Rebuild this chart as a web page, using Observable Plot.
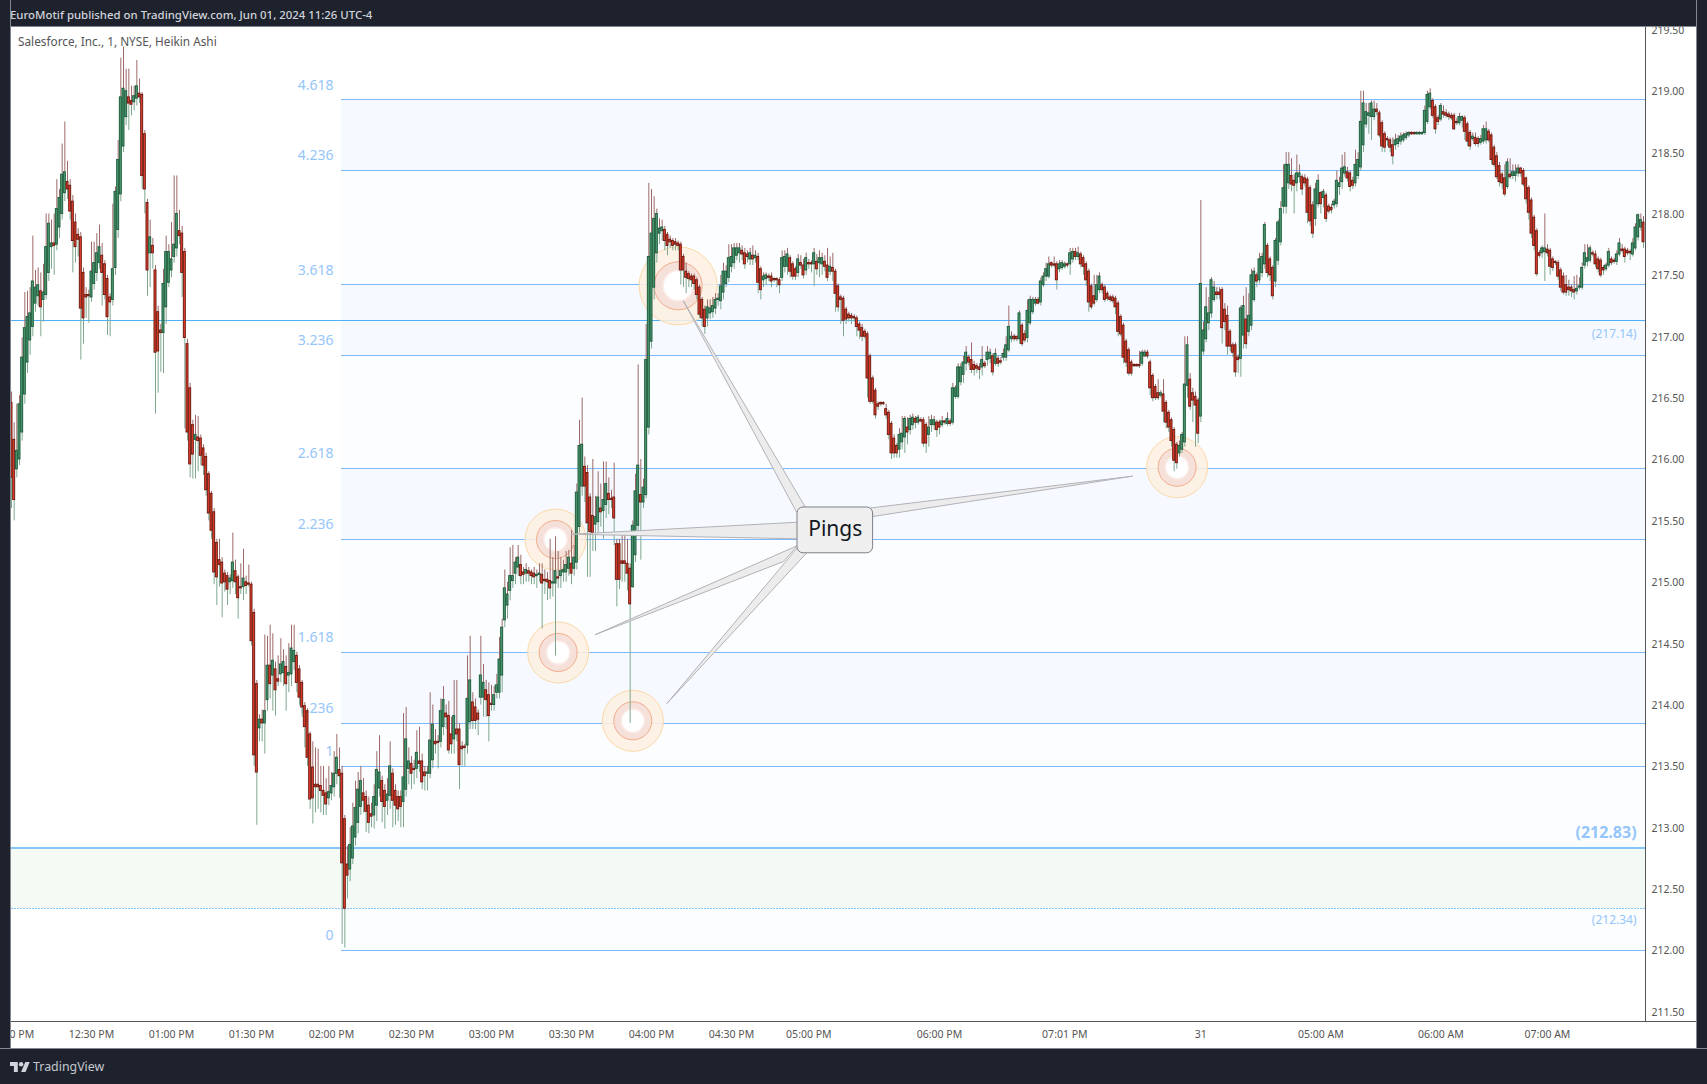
<!DOCTYPE html>
<html><head><meta charset="utf-8">
<script src="https://cdn.jsdelivr.net/npm/d3@7"></script>
<script src="https://cdn.jsdelivr.net/npm/@observablehq/plot@0.6"></script>
<style>
html,body{margin:0;padding:0;background:#1e222d;width:1707px;height:1084px;overflow:hidden}
#chart{position:absolute;left:0;top:0}
.f{position:absolute;background:#1e222d;z-index:5}
.t{position:absolute;z-index:6;font-family:"Noto Sans",sans-serif;white-space:nowrap}
</style></head><body>
<div id="chart"></div>
<div class="f" style="left:0;top:0;width:1707px;height:26px;border-bottom:1px solid #85878f"></div>
<div class="f" style="left:0;top:0;width:10px;height:1084px;border-right:1px solid #85878f"></div>
<div class="f" style="left:1696px;top:0;width:11px;height:1084px;border-left:1px solid #85878f"></div>
<div class="f" style="left:0;top:1048px;width:1707px;height:36px;border-top:1px solid #85878f"></div>
<div class="t" style="left:10px;top:7px;font-size:11.4px;font-weight:500;color:#d1d4dc">EuroMotif published on TradingView.com, Jun 01, 2024 11:26 UTC-4</div>
<div class="t" style="left:18px;top:33px;font-size:11.8px;color:#555">Salesforce, Inc., 1, NYSE, Heikin Ashi</div>
<svg class="t" style="left:10px;top:1061px" width="20" height="12" viewBox="0 4 36 18"><path fill="#d1d4dc" d="M14 22H7V11H0V4h14v18zM28 22h-8l7.5-18h8L28 22z"/><circle fill="#d1d4dc" cx="20" cy="8" r="4"/></svg>
<div class="t" style="left:33px;top:1058px;font-size:12.4px;color:#c4c7cf">TradingView</div>
<script>
// Prices are cents above this base. Rows: [open, close, high, low]
const priceBase = 212;
const noonBars = [
[446,385,455,360],[416,367,430,350],[392,407,445,385],[400,445,452,395],[422,483,499,415],[453,507,536,445],[479,516,537,470],[497,519,540,485],[508,545,582,500],[527,540,554,520],
[533,542,556,525],[537,524,552,500],[530,536,559,512],[534,573,600,530],[552,592,600,545],[573,576,595,555],[576,574,600,550],[575,604,628,570],[589,613,620,580],[600,632,657,595],
[617,634,675,610],[626,620,643,612],[623,602,628,595],[610,578,615,552],[593,573,600,560],[583,579,588,565],[581,523,585,481],[552,515,556,494],[534,532,540,515],[534,533,538,511],
[532,553,577,528],[543,560,577,538],[552,568,584,545],[560,573,591,555],[566,552,576,525],[559,534,562,530],[547,516,550,501],[532,528,535,500],[530,555,608,525],[556,618,622,550],
[587,644,660,580],[616,695,727,610],[655,702,736,650],[679,700,718,672],[695,690,718,668],[692,689,704,680],[691,696,704,684],[694,704,725,688],[698,695,710,690],[697,631,699,620],
[665,620,668,600],[609,554,612,533],[568,581,595,540],[574,568,580,555],[554,487,558,437],[520,488,525,454],[505,503,510,471],[503,543,555,470],[524,569,582,510],[544,569,575,540],
[554,563,593,548],[565,575,631,560],[572,600,631,565],[586,582,603,575],[584,552,590,532],[569,499,572,425],[494,422,498,415],[458,396,462,385],[428,404,432,384],[416,420,436,384],
[418,415,435,390],[417,403,420,395],[409,395,412,387],[402,375,405,370],[388,356,390,350],[372,342,374,335],[357,308,360,298],[332,304,335,281],[318,314,335,296],[316,299,320,271],
[307,300,310,292],[305,294,308,281],[300,303,306,290],[301,316,340,295],[309,300,318,290],[304,287,306,270],[296,295,315,290],[296,303,327,285],[300,297,305,290],[299,298,314,296],
[298,252,300,248],[275,159,278,150],[217,145,220,102],[181,188,192,170],[188,185,196,170],[185,195,257,160],[204,232,256,195],[232,217,265,205],[224,236,258,195],[229,212,235,191],
[221,219,240,215],[225,233,254,218],[226,235,245,215],[231,217,240,195],[224,226,250,210],[225,246,265,215],[235,244,265,228],[240,218,243,210],[229,206,232,200],[218,198,220,190],
[199,182,202,165],[195,157,197,150],[176,123,178,115],[149,124,170,103],[135,133,165,112],[135,133,164,115],[134,130,150,112],[130,126,150,110],[128,119,140,110],[124,129,150,118]];
const afternoonBars = [
[128,134,145,122],[133,144,162,125],[144,157,176,135],[147,142,165,124],[144,71,150,5],[107,34,110,2],[70,61,85,42],[66,86,100,56],[75,101,120,70],[92,116,138,85],
[104,131,145,95],[117,138,150,110],[128,122,140,112],[125,113,130,96],[118,104,125,95],[111,109,120,100],[110,125,135,99],[118,147,162,105],[132,145,175,125],[138,121,142,104],
[130,117,135,99],[122,127,140,110],[126,150,170,115],[144,122,148,100],[130,118,135,102],[125,115,130,105],[125,117,130,100],[121,141,193,100],[131,172,198,125],[148,154,165,135],
[152,144,158,131],[148,147,155,135],[148,161,179,140],[154,152,182,145],[154,137,160,131],[145,142,150,130],[144,145,150,130],[144,171,210,140],[155,184,200,148],[170,168,180,160],
[170,169,175,148],[170,195,205,165],[182,204,215,175],[193,190,200,180],[191,163,203,160],[176,168,190,160],[172,191,220,160],[180,176,220,170],[180,151,185,131],[166,164,170,150],
[166,165,168,150],[167,205,240,160],[186,220,256,180],[202,187,210,180],[198,187,205,180],[193,188,196,175],[206,224,256,200],[206,218,233,190],[212,204,220,190],[208,191,218,170],
[201,200,216,195],[200,208,215,195],[210,216,225,205],[210,237,255,205],[224,263,270,210],[269,295,310,263],[281,290,300,270],[293,305,328,285],[301,305,330,295],[307,316,320,298],
[312,320,330,305],[314,305,322,298],[308,306,312,298],[307,310,315,300],[309,307,312,300],[308,305,310,298],[307,304,312,298],[305,306,310,295],[306,307,315,300],[306,299,315,262],
[302,301,310,290],[302,300,308,285],[301,295,335,286],[299,300,320,288],[299,309,337,240],[304,303,325,295],[305,309,320,295],[308,310,318,300],[308,314,325,300],[311,320,326,305],
[315,307,342,298],[311,320,330,305],[316,373,380,310],[345,411,432,340],[378,412,450,370],[394,378,402,365],[389,348,395,304],[369,341,372,304],[354,340,400,325],[347,353,370,325],
[349,369,390,340],[360,357,380,345],[358,367,398,335],[363,380,398,352],[372,367,385,355],[368,367,375,360],[369,352,397,330],[331,302,335,280],[331,302,335,294],[317,315,340,300],
[317,315,340,300],[315,307,335,293],[311,282,315,185],[296,346,350,295],[322,374,388,316],[346,395,477,340],[371,365,400,318],[365,377,384,360],[371,481,510,368],[426,565,625,420]];
const eveningBars = [
[496,584,620,490],[540,596,614,530],[568,600,604,560],[584,588,596,575],[586,589,595,578],[587,578,590,570],[583,574,585,566],[579,577,582,572],[578,574,580,570],[577,575,580,570],
[576,574,578,570],[575,554,577,542],[565,554,567,540],[553,548,560,535],[551,547,553,540],[549,546,551,540],[549,543,551,538],[546,534,548,530],[540,518,542,515],[530,515,532,508],
[522,508,525,502],[515,524,530,508],[519,523,530,514],[520,525,532,515],[523,530,535,518],[530,531,535,525],[529,541,550,522],[536,553,560,530],[543,553,558,540],[548,564,575,544],
[557,565,575,552],[560,572,576,555],[566,572,576,562],[568,572,576,560],[570,567,574,562],[568,559,572,555],[567,565,570,560],[563,568,572,558],[566,563,574,558],[564,566,570,560],
[565,544,568,535],[555,538,557,530],[546,549,552,540],[547,550,552,542],[549,548,551,545],[549,545,552,540],[547,546,548,544],[547,546,548,540],[546,542,548,535],[548,564,570,545],
[557,565,570,552],[557,567,572,550],[564,553,566,548],[559,549,561,546],[555,549,557,546],[552,563,567,548],[560,558,566,555],[558,550,563,547],[554,564,568,550],[560,559,563,555],
[560,559,562,552],[559,568,572,541],[561,555,567,550],[560,564,570,548],[559,564,568,550],[561,557,566,553],[558,548,572,545],[553,557,565,550],[556,553,568,545],[553,535,555,520],
[541,524,543,520],[532,530,534,510],[531,513,533,500],[522,514,524,510],[518,515,520,512],[517,515,519,510],[516,515,518,512],[515,508,517,500],[510,505,512,498],[507,500,510,496],
[504,500,506,498],[502,466,504,450],[484,447,486,445],[466,447,468,445],[456,436,458,433],[445,443,447,440],[446,445,447,443],[446,445,447,444],[441,436,445,433],[438,420,440,416],
[429,405,431,400],[417,405,420,401],[411,405,413,401],[408,420,425,401],[414,421,435,408],[418,433,435,405],[426,422,434,412],[424,433,436,420],[428,434,437,424],[433,430,435,425],
[430,434,436,428],[432,431,434,430],[432,413,434,410],[428,413,430,405],[420,426,435,410],[428,432,436,422],[428,432,435,424],[430,424,432,418],[430,426,432,420],[428,431,435,426],
[431,430,432,428],[429,433,438,427],[431,429,433,427],[430,458,462,428],[451,458,460,449],[451,475,478,449],[463,475,478,460],[469,479,484,462],[478,487,492,472],[483,479,485,476],
[481,473,495,470],[477,473,480,468],[476,474,478,470],[475,473,478,465],[475,481,492,468],[478,476,480,474],[481,487,492,476],[482,487,490,478],[484,471,486,468],[478,486,490,476],
[482,478,484,475],[480,479,483,477],[483,486,490,480],[483,493,500,480],[489,508,525,487],[498,500,504,495],[500,498,502,496],[500,498,500,496],[498,519,521,494],[509,494,511,492],
[502,497,505,495],[499,521,530,495],[511,530,533,509],[520,530,532,518],[527,530,532,525],[530,527,532,526],[528,545,548,525],[542,549,552,540],[549,555,560,545],[549,559,565,547],
[560,558,561,556],[559,558,565,556],[559,546,561,538],[555,559,562,552],[556,560,562,554],[557,559,561,555],[559,558,560,556],[559,568,572,550],[563,569,572,560],[569,565,572,562],
[565,568,573,562],[567,559,569,556],[564,557,566,550],[559,546,561,541],[553,528,555,520],[541,524,543,522],[533,527,550,525],[530,542,550,528],[538,549,552,535],[542,538,544,535],
[540,530,542,528],[535,531,537,529],[532,530,534,528],[532,529,534,527],[531,524,533,518],[527,504,529,500],[516,502,518,500],[509,483,511,478],[496,479,498,475],[489,470,491,468],
[479,470,481,468],[477,476,478,475],[477,476,478,475],[477,476,488,474],[478,487,489,476],[484,487,489,483],[487,484,489,482],[479,458,481,452],[468,450,470,447],[459,450,461,448],
[454,450,465,448],[452,454,456,450],[453,439,465,430],[446,430,448,425],[438,426,440,422],[432,415,434,410],[424,399,426,390],[412,397,414,392],[405,411,415,402],[408,420,422,405]];
const overnightBars = [
[414,461,500,410],[460,493,500,450],[465,443,470,440],[454,448,458,430],[451,444,455,410],[448,421,450,413],[435,543,611,430],[488,505,512,485],[498,524,540,495],[511,519,532,505],
[519,546,548,515],[530,540,545,528],[536,534,540,530],[536,534,540,530],[538,507,540,494],[522,512,527,505],[517,492,525,485],[504,492,506,488],[493,487,495,483],[493,471,495,467],
[483,481,485,470],[482,523,525,467],[501,525,533,490],[514,494,540,490],[504,517,535,500],[509,550,555,505],[530,553,556,528],[550,545,552,540],[546,563,568,543],[552,565,568,548],
[559,591,593,555],[574,552,576,548],[563,550,565,545],[556,533,558,530],[545,578,580,540],[562,593,595,558],[577,604,610,574],[606,621,640,600],[606,640,650,600],[625,640,650,620],
[631,624,645,618],[627,623,632,600],[625,633,648,618],[630,633,640,625],[630,620,632,615],[629,625,632,622],[628,601,630,592],[621,594,623,590],[607,584,610,580],[596,620,625,590],
[608,627,632,605],[617,608,618,600],[613,618,620,605],[615,596,617,593],[606,602,608,600],[605,603,608,600],[607,610,612,604],[608,627,635,605],[622,625,630,615],[626,637,648,620],
[633,638,650,630],[634,629,638,626],[633,622,635,618],[627,623,630,620],[625,640,652,622],[631,644,650,628],[638,675,700,635],[656,690,700,650],[673,683,690,670],[680,682,690,665]];
const morningBars = [
[679,690,692,660],[679,685,692,676],[685,683,690,680],[682,664,684,662],[674,655,676,650],[665,654,667,650],[661,660,663,655],[660,654,662,650],[656,647,662,640],[656,660,665,652],
[657,661,664,654],[659,663,666,656],[660,664,666,658],[662,665,667,660],[664,666,667,662],[666,665,667,664],[666,665,667,664],[665,666,667,664],[665,666,667,664],[665,666,667,664],
[666,684,688,664],[675,697,700,673],[687,698,702,685],[692,680,694,678],[687,669,689,665],[678,675,680,672],[677,688,690,675],[683,681,688,678],[682,680,685,678],[681,679,683,676],
[680,678,682,676],[680,669,682,668],[675,674,678,672],[674,679,682,672],[676,679,680,670],[678,667,680,660],[673,659,675,655],[666,655,668,652],[661,663,666,659],[662,657,666,655],
[661,657,663,654],[658,661,664,656],[659,669,672,657],[660,669,675,657],[667,660,669,658],[664,644,666,640],[654,640,656,638],[647,630,650,628],[639,626,642,622],[632,625,634,620],
[629,616,640,614],[622,642,645,620],[632,630,645,628],[631,634,640,628],[631,634,640,626],[633,637,640,630],[637,633,638,630],[635,624,637,622],[629,612,630,608],[621,601,623,595],
[611,584,613,580],[597,574,599,570],[586,551,588,549],[568,566,570,564],[568,572,574,564],[569,572,600,545],[571,568,575,565],[570,557,572,550],[563,556,565,553],[561,560,562,558],
[560,549,562,546],[554,540,556,537],[549,536,552,534],[542,536,550,533],[540,538,546,533],[540,537,542,532],[538,536,549,530],[537,539,550,534],[540,541,548,538],[540,556,560,538],
[558,568,575,555],[561,564,575,557],[562,572,574,560],[568,567,570,565],[567,559,570,556],[563,555,565,552],[562,550,564,548],[556,554,558,550],[555,558,560,553],[558,569,572,556],
[563,560,565,558],[562,561,564,559],[561,567,570,558],[567,576,580,565],[571,570,575,568],[571,565,573,560],[570,568,572,566],[569,568,571,562],[567,576,580,565],[572,589,592,570],
[581,599,600,578],[589,595,600,586],[593,577,598,572]];

const priceTicks = [211.5,212,212.5,213,213.5,214,214.5,215,215.5,216,216.5,217,217.5,218,218.5,219,219.5];
const timeTicks = [0,30,60,90,120,150,180,210,240,270,299,348,395,446,491,536,576];
const timeLabels = ["12:00 PM","12:30 PM","01:00 PM","01:30 PM","02:00 PM","02:30 PM","03:00 PM","03:30 PM","04:00 PM","04:30 PM","05:00 PM","06:00 PM","07:01 PM","31","05:00 AM","06:00 AM","07:00 AM"];
const fibRatios = ["4.618","4.236","3.618","3.236","2.618","2.236","1.618","1.236","1","0"];
const fibPrices = [218.93,218.355,217.425,216.85,215.93,215.35,214.43,213.85,213.50,212.00];
const levelPrices = [217.13,212.835,212.34];
const levelLabels = ["(217.14)","(212.83)","(212.34)"];
const fibStart = 123.75, barEnd = 612.75;
const pingX = [204,205,233,437.1];
const pingY = [215.348,214.428,213.871,215.937];
const bigPingX = [250];
const bigPingY = [217.415];
const calloutWedges = [
 [[210,215.391],[294.75,215.489],[294.75,215.354]],
 [[219,214.574],[294.75,215.299],[289.5,215.169]],
 [[245.9,214.015],[294.75,215.283],[298.1,215.237]],
 [[252,217.29],[294.4,215.571],[297.75,215.609]],
 [[420.3,215.864],[322.1,215.605],[323.1,215.536]]];
const calloutBox = {x1:294.75,x2:323.1,y1:215.236,y2:215.609};

const bars = [...noonBars,...afternoonBars,...eveningBars,...overnightBars,...morningBars].map((b,i)=>{
  const [o,c,h,l] = b.map(v=>priceBase+v/100);
  return {i,o,c,h,l,top:Math.max(o,c),bot:Math.min(o,c),up:c>=o};
});
const wedgePts = calloutWedges.flatMap((w,k)=>[...w,w[0]].map(p=>({k,x:p[0],y:p[1]})));
const pings = pingX.map((x,k)=>({x,y:pingY[k]}));
const bigPings = bigPingX.map((x,k)=>({x,y:bigPingY[k]}));
const fibs = fibPrices.map((p,k)=>({p,r:fibRatios[k]}));
const strong = [[0,1],[2,3],[4,5],[6,7]].map(([a,b])=>({y1:fibPrices[a],y2:fibPrices[b]}));
const blue="#7db9ff", lab="#94c5fb";
const body = bars.map(d=>({...d,x1:d.i-0.37,x2:d.i+0.37}));
const rings = (data,r1,r2,r3)=>[
  Plot.dot(data,{x:"x",y:"y",r:r1,fill:"#fdf0e0",fillOpacity:0.85,stroke:"#fcd9a8",strokeWidth:1}),
  Plot.dot(data,{x:"x",y:"y",r:r2,fill:"#f6e0da",stroke:"#f3ab8c",strokeWidth:1}),
  Plot.dot(data,{x:"x",y:"y",r:r3,fill:"#fff",stroke:"#fbeeea",strokeWidth:1.5})
];

const plot = Plot.plot({
  width:1707,height:1084,marginLeft:11,marginRight:62,marginTop:27,marginBottom:63,
  style:{background:"#fff",fontFamily:"'Noto Sans',sans-serif"},
  x:{domain:[0,barEnd],axis:null},
  y:{domain:[priceBase-71/122.75,priceBase+923/122.75],axis:null},
  marks:[
    Plot.rect([{y1:212,y2:fibPrices[0]}],{x1:fibStart,x2:barEnd,y1:"y1",y2:"y2",fill:"#fcfdff"}),
    Plot.rect(strong,{x1:fibStart,x2:barEnd,y1:"y1",y2:"y2",fill:"#f6f9ff"}),
    Plot.rect([{y1:levelPrices[2],y2:levelPrices[1]}],{x1:0,x2:barEnd,y1:"y1",y2:"y2",fill:"#e8f4e8",fillOpacity:0.45}),
    Plot.ruleY(fibs,{y:"p",x1:fibStart,x2:barEnd,stroke:blue,strokeWidth:1,shapeRendering:"crispEdges"}),
    Plot.ruleY([levelPrices[0]],{x1:0,x2:barEnd,stroke:"#4fb0fa",strokeWidth:1,shapeRendering:"crispEdges"}),
    Plot.ruleY([levelPrices[1]],{x1:0,x2:barEnd,stroke:"#84c6fb",strokeWidth:2,shapeRendering:"crispEdges"}),
    Plot.ruleY([levelPrices[2]],{x1:0,x2:barEnd,stroke:"#7fc4f7",strokeWidth:1,strokeDasharray:"2 1",shapeRendering:"crispEdges"}),
    Plot.text(fibs,{x:120.75,y:"p",text:"r",textAnchor:"end",dy:-14.5,fill:lab,fontSize:14}),
    Plot.text([levelLabels[0]],{x:609.4,y:levelPrices[0],text:d=>d,textAnchor:"end",dy:13,fill:lab,fontSize:12}),
    Plot.text([levelLabels[1]],{x:609.4,y:levelPrices[1],text:d=>d,textAnchor:"end",dy:-15,fill:lab,fontSize:16,fontWeight:"bold"}),
    Plot.text([levelLabels[2]],{x:609.4,y:levelPrices[2],text:d=>d,textAnchor:"end",dy:11,fill:lab,fontSize:12}),
    ...rings(pings,30.5,19,11.5),
    ...rings(bigPings,39,24,15),
    Plot.ruleX(bars,{x:"i",y1:"top",y2:"h",stroke:"#9c6b68",strokeWidth:1}),
    Plot.ruleX(bars,{x:"i",y1:"bot",y2:"l",stroke:"#7fa88f",strokeWidth:1}),
    Plot.rect(body,{x1:"x1",x2:"x2",y1:"o",y2:"c",fill:d=>d.up?"#4f9e72":"#e8432c",stroke:d=>d.up?"#1f5c3e":"#6e1a12",strokeWidth:1}),
    Plot.line(wedgePts,{x:"x",y:"y",z:"k",fill:"#ececec",stroke:"#b2b2b6",strokeWidth:1}),
    Plot.rect([calloutBox],{x1:"x1",x2:"x2",y1:"y1",y2:"y2",fill:"#efefef",stroke:"#7f8188",strokeWidth:1,rx:6}),
    Plot.text(["Pings"],{x:308.9,y:215.43,text:d=>d,fontSize:21,fill:"#131722"}),
    Plot.ruleX([barEnd],{y1:priceBase-71/122.75,y2:priceBase+923/122.75,stroke:"#555",strokeWidth:1}),
    Plot.ruleY([priceBase-71/122.75],{x1:0,x2:barEnd+20,stroke:"#555",strokeWidth:1}),
    Plot.axisY({anchor:"right",ticks:priceTicks,tickFormat:d3.format(".2f"),tickSize:0,tickPadding:6,fontSize:10.5,label:null,color:"#555",dy:0.5}),
    Plot.axisX({anchor:"bottom",ticks:timeTicks,tickFormat:d=>timeLabels[timeTicks.indexOf(d)],tickSize:0,tickPadding:9,fontSize:10.5,label:null,color:"#555"})
  ]
});
document.getElementById("chart").append(plot);
</script>
</body></html>
